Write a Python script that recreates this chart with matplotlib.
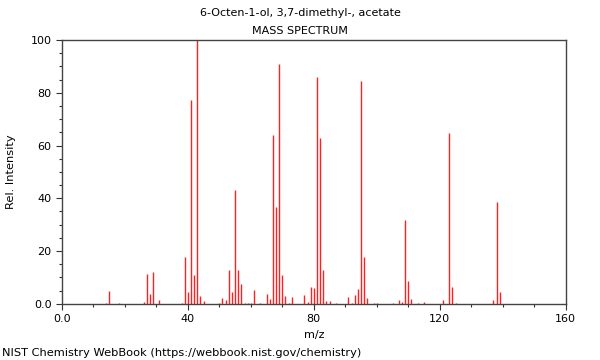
import matplotlib
matplotlib.use('Agg')
import matplotlib.pyplot as plt
from matplotlib.ticker import MultipleLocator, FixedLocator

# m/z and relative intensity
mz = [14, 15, 18, 26, 27, 28, 29, 31, 38, 39, 40, 41, 42, 43, 44, 45,
      50, 51, 52, 53, 54, 55, 56, 57, 58, 59, 60, 61, 63, 65, 66, 67,
      68, 69, 70, 71, 72, 73, 77, 78, 79, 80, 81, 82, 83, 84, 85, 87,
      91, 92, 93, 94, 95, 96, 97, 99, 100, 105, 107, 108, 109, 110, 111,
      113, 115, 121, 123, 124, 125, 137, 138, 139]
intensity = [0.5, 4.7, 0.5, 0.6, 11.4, 3.8, 12.2, 1.5, 0.5, 17.9, 4.6, 77.3,
             11.0, 100, 2.8, 1.0, 0.5, 2.2, 1.3, 12.8, 4.6, 43.3, 12.7, 7.5,
             0.5, 0.5, 0.5, 5.3, 0.5, 3.6, 1.8, 63.8, 36.7, 90.9, 10.8, 2.9,
             0.5, 2.5, 3.4, 0.6, 6.4, 6.1, 85.8, 62.8, 12.8, 1.0, 1.0, 0.5,
             2.6, 0.5, 3.2, 5.8, 84.5, 17.8, 2.1, 0.5, 0.4, 0.5, 1.5, 0.6,
             31.8, 8.6, 1.7, 0.4, 0.6, 1.3, 64.6, 6.4, 0.5, 1.3, 38.6, 4.4]

title = '6-Octen-1-ol, 3,7-dimethyl-, acetate'
subtitle = 'MASS SPECTRUM'
credit = 'NIST Chemistry WebBook (https://webbook.nist.gov/chemistry)'
xticks = [0, 40, 80, 120, 160]
xticklabels = ['0.0', '40', '80', '120', '160']
yticks = [0, 20, 40, 60, 80, 100]
yticklabels = ['0.0', '20', '40', '60', '80', '100']

plt.rcParams.update({'font.size': 8, 'font.family': 'DejaVu Sans'})
fig = plt.figure(figsize=(6, 3.6), dpi=100)
ax = fig.add_axes([0.103, 0.156, 0.84, 0.733])

ax.vlines(mz, 0, intensity, color='#ff2020', linewidth=1.0)

ax.set_xlim(0, 160)
ax.set_ylim(0, 100)
ax.xaxis.set_major_locator(FixedLocator(xticks))
ax.set_xticklabels(xticklabels)
ax.xaxis.set_minor_locator(MultipleLocator(10))
ax.yaxis.set_major_locator(FixedLocator(yticks))
ax.set_yticklabels(yticklabels)
ax.yaxis.set_minor_locator(MultipleLocator(5))
ax.tick_params(which='major', length=4, width=0.8, labelsize=8, colors='#333333',
               labelcolor='black')
ax.tick_params(which='minor', length=2.5, width=0.8, colors='#333333')
for s in ax.spines.values():
    s.set_color('#444444')
    s.set_linewidth(1.0)

ax.set_xlabel('m/z', fontsize=8, labelpad=4)
ax.set_ylabel('Rel. Intensity', fontsize=8.2, labelpad=10)

fig.text(0.5, 0.963, title, ha='center', va='center', fontsize=8)
fig.text(0.5, 0.915, subtitle, ha='center', va='center', fontsize=8)
fig.text(0.004, 0.02, credit, ha='left', va='center', fontsize=8.2)

plt.savefig('out.png', dpi=100)
